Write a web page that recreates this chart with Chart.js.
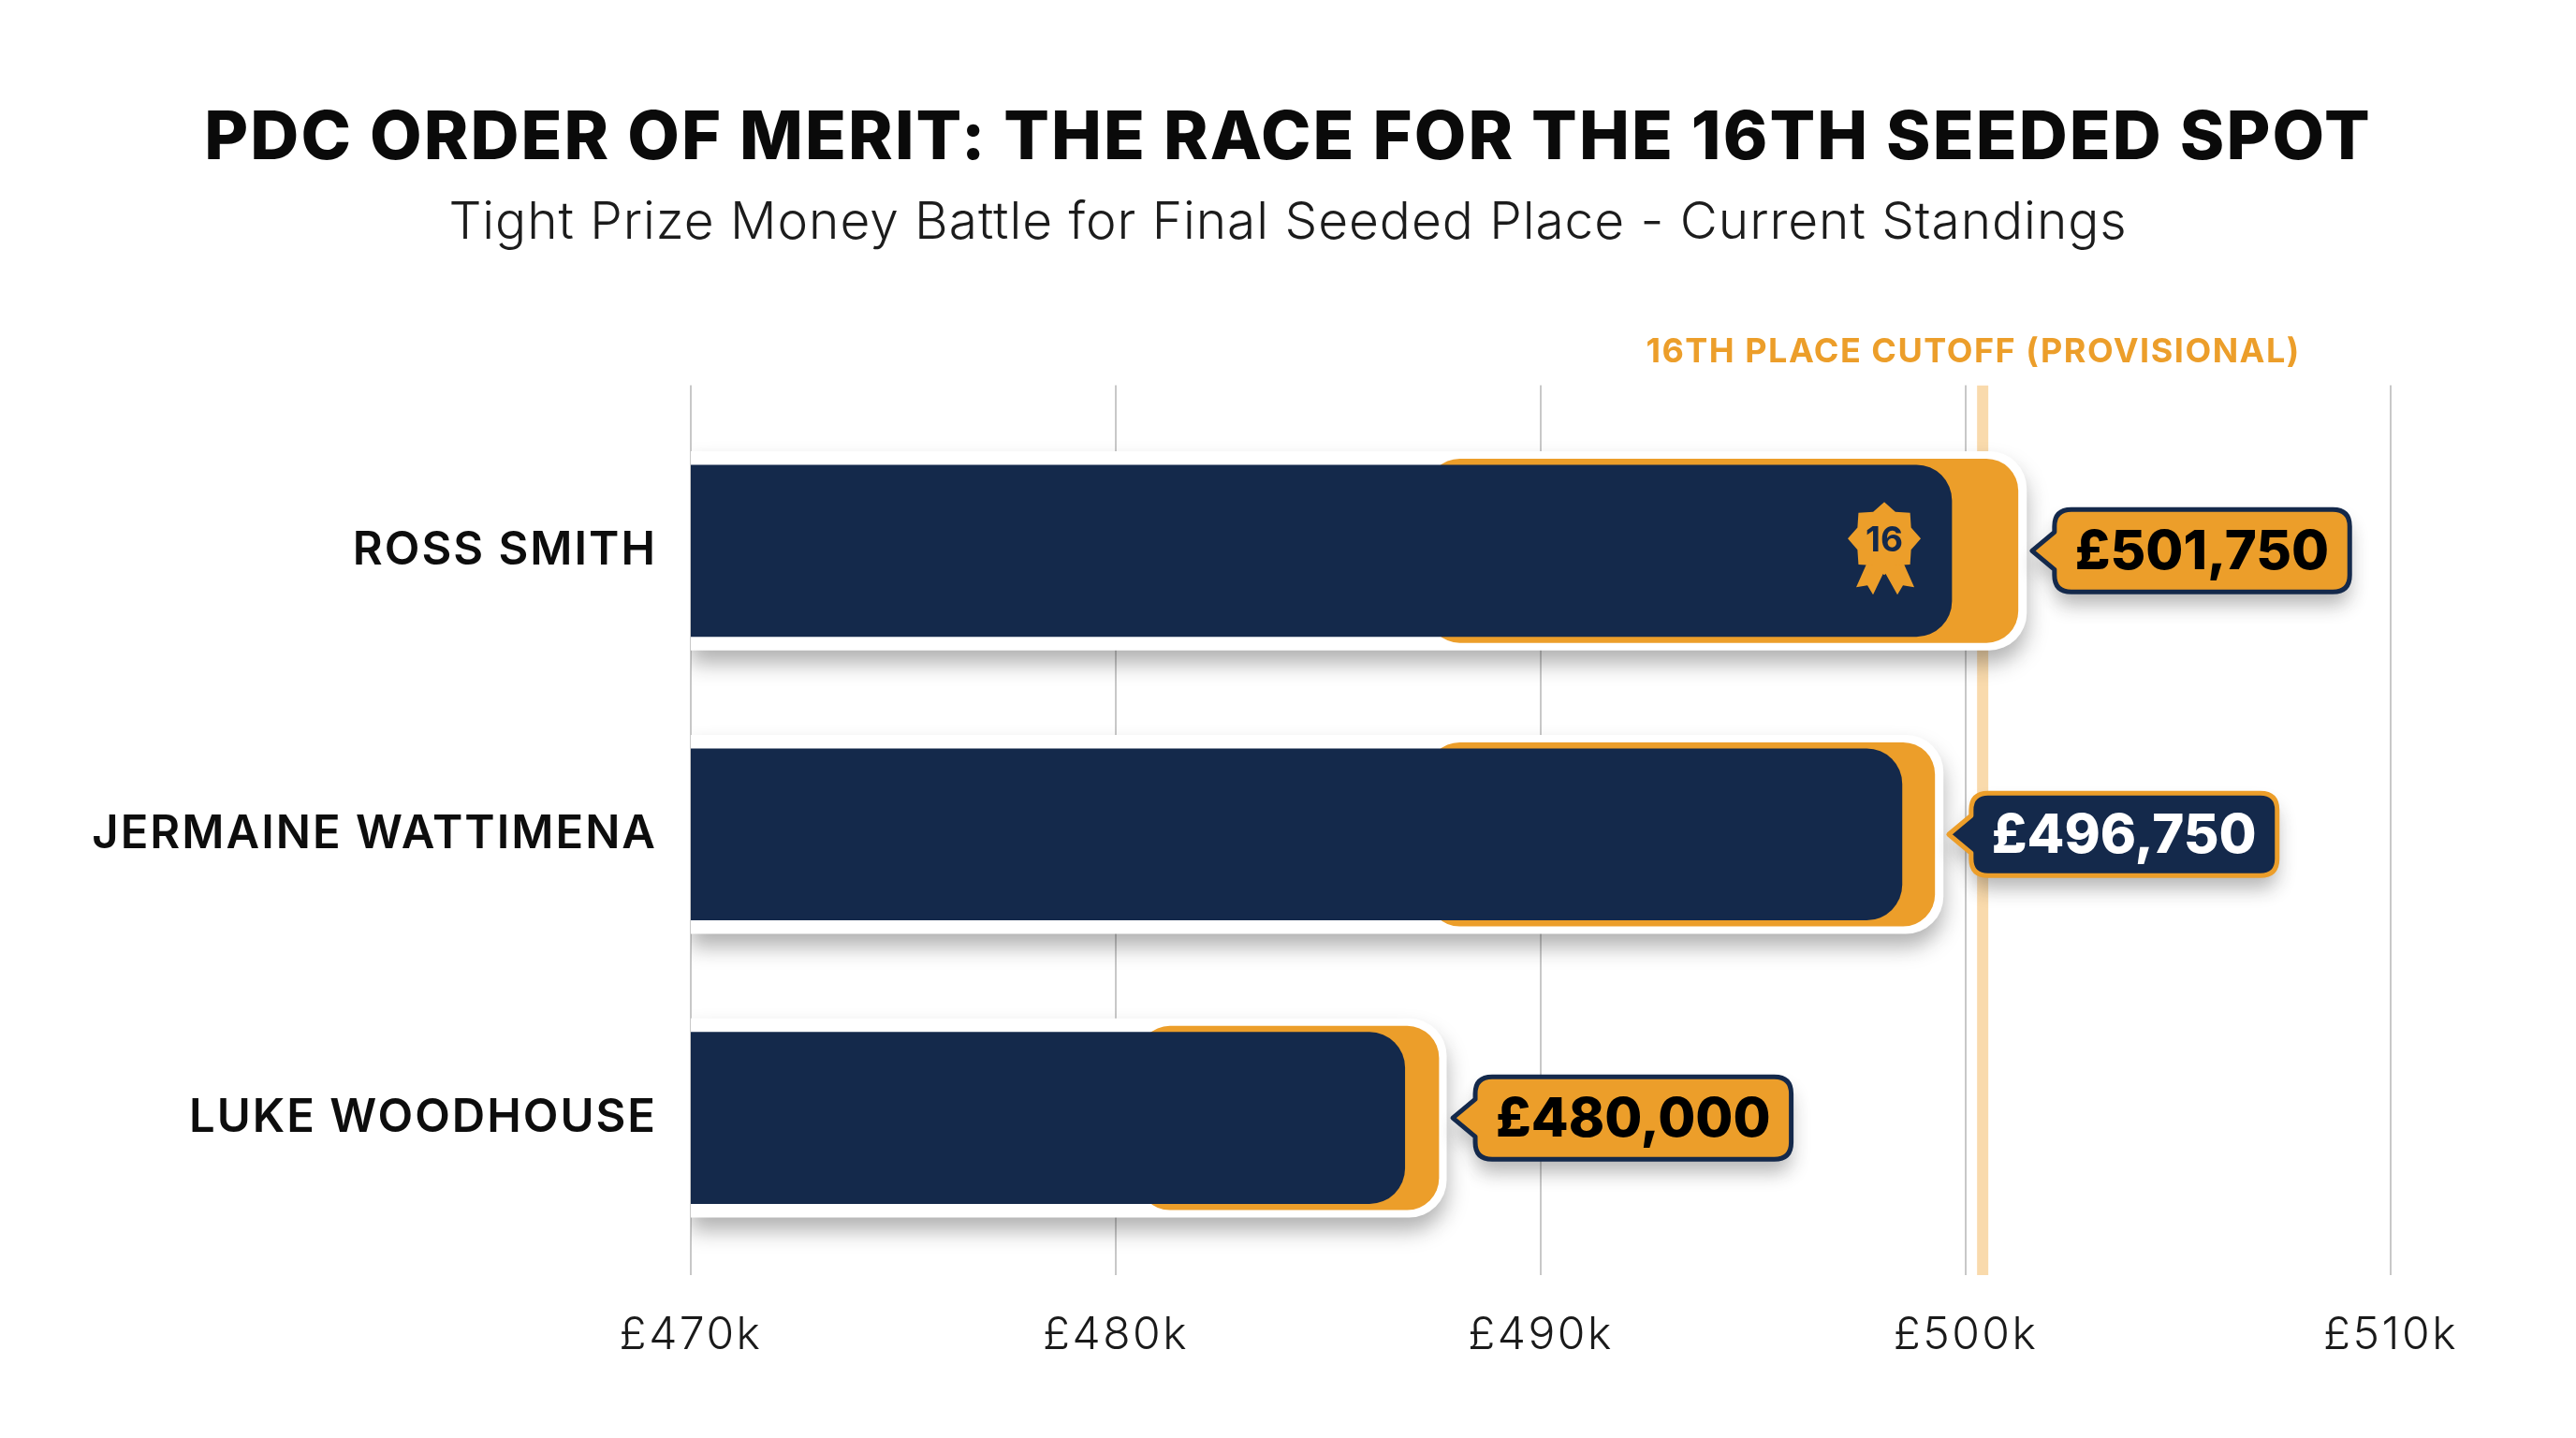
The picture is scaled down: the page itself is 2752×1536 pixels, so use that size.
<!DOCTYPE html>
<html>
<head>
<meta charset="utf-8">
<title>PDC Order of Merit</title>
<script src="https://cdn.jsdelivr.net/npm/chart.js@4/dist/chart.umd.min.js"></script>
<style>
    html, body { margin: 0; padding: 0; background: #ffffff; }
    canvas { display: block; }
</style>
</head>
<body>
<canvas id="grafico" width="2752" height="1536"></canvas>
<script>
const players = ["ROSS SMITH", "JERMAINE WATTIMENA", "LUKE WOODHOUSE"];
const prizeLabels = ["£501,750", "£496,750", "£480,000"];

// the bars in the picture do not line up with the printed prize money
const navyEnd = [499670, 498500, 486800];
const orangeStart = [487350, 487350, 480530];
const orangeEnd = [501230, 499270, 487600];
const haloEnd = [501430, 499470, 487780];

const axisMin = 470000;
const axisMax = 510000;
const axisStep = 10000;
const cutoffValue = 500400;
const cutoffLabel = "16TH PLACE CUTOFF (PROVISIONAL)";
const badgeText = "16";

const NAVY = "#14294B";
const ORANGE = "#EC9E2A";
const FONT = "Inter, 'Noto Sans', sans-serif";

const yMin = -0.584;
const yMax = 2.554;

function calloutPath(ctx, tipX, cy, left, right, h, r) {
    const top = cy - h / 2;
    const bottom = cy + h / 2;
    ctx.beginPath();
    ctx.moveTo(tipX, cy);
    ctx.lineTo(left, cy - 20);
    ctx.lineTo(left, top + r);
    ctx.quadraticCurveTo(left, top, left + r, top);
    ctx.lineTo(right - r, top);
    ctx.quadraticCurveTo(right, top, right, top + r);
    ctx.lineTo(right, bottom - r);
    ctx.quadraticCurveTo(right, bottom, right - r, bottom);
    ctx.lineTo(left + r, bottom);
    ctx.quadraticCurveTo(left, bottom, left, bottom - r);
    ctx.lineTo(left, cy + 20);
    ctx.closePath();
}

function drawBadge(ctx, cx, cy) {
    ctx.save();
    ctx.fillStyle = ORANGE;
    // ribbon tails
    const tails = [[-18, 25], [-30, 52], [-18, 50], [-12, 60], [0, 35], [14, 60], [20, 50], [32, 52], [20, 25]];
    ctx.beginPath();
    tails.forEach((p, i) => i ? ctx.lineTo(cx + p[0], cy + p[1]) : ctx.moveTo(cx + p[0], cy + p[1]));
    ctx.closePath();
    ctx.fill();
    // star
    const points = 8;
    ctx.beginPath();
    for (let i = 0; i < points * 2; i++) {
        const rad = i % 2 ? 31 : 39;
        const ang = -Math.PI / 2 + i * Math.PI / points;
        ctx.lineTo(cx + Math.cos(ang) * rad, cy + Math.sin(ang) * rad);
    }
    ctx.closePath();
    ctx.fill();
    ctx.fillStyle = NAVY;
    ctx.font = "700 37px " + FONT;
    ctx.textAlign = "center";
    ctx.textBaseline = "middle";
    ctx.fillText(badgeText, cx, cy + 3);
    ctx.restore();
}

// the white plate under each bar throws a soft shadow
const haloShadow = {
    id: "haloShadow",
    beforeDatasetDraw(chart, args) {
        if (chart.data.datasets[args.index].label !== "halo") return;
        const ctx = chart.ctx;
        ctx.save();
        ctx.shadowColor = "rgba(30,30,30,0.34)";
        ctx.shadowBlur = 22;
        ctx.shadowOffsetY = 14;
    },
    afterDatasetDraw(chart, args) {
        if (chart.data.datasets[args.index].label !== "halo") return;
        chart.ctx.restore();
    }
};

// chart.js has no letter spacing option, so wrap the draw calls of each text box
function spaced(box, method, px) {
    if (box["_spaced" + method]) return;
    box["_spaced" + method] = true;
    const orig = box[method];
    box[method] = function (...args) {
        this.ctx.letterSpacing = px;
        orig.apply(this, args);
        this.ctx.letterSpacing = "0px";
    };
}

const letterSpacing = {
    id: "letterSpacing",
    afterLayout(chart) {
        chart.boxes.forEach(b => {
            if (b === chart.titleBlock) spaced(b, "draw", "2.1px");
            else if (b.options && b.options.text && b.options.text.startsWith("Tight")) spaced(b, "draw", "0.95px");
        });
        spaced(chart.scales.x, "drawLabels", "2.5px");
        spaced(chart.scales.y, "drawLabels", "2px");
    }
};

const annotations = {
    id: "annotations",
    afterDatasetsDraw(chart) {
        const ctx = chart.ctx;
        const x = chart.scales.x;
        const y = chart.scales.y;

        ctx.save();
        ctx.fillStyle = ORANGE;
        ctx.font = "700 36px " + FONT;
        ctx.letterSpacing = "1.5px";
        ctx.textAlign = "center";
        ctx.textBaseline = "middle";
        ctx.fillText(cutoffLabel, x.getPixelForValue(cutoffValue) - 10, 376);
        ctx.restore();

        drawBadge(ctx, x.getPixelForValue(navyEnd[0]) - 72, y.getPixelForValue(0) - 13);

        prizeLabels.forEach((txt, i) => {
            const dark = i === 1;
            const cy = y.getPixelForValue(i);
            const tipX = x.getPixelForValue(orangeEnd[i]) + 15;
            const left = tipX + 24;
            ctx.save();
            ctx.font = "800 58px " + FONT;
            const w = ctx.measureText(txt).width;
            const right = left + w + 44;
            calloutPath(ctx, tipX, cy, left, right, 88, 18);
            ctx.shadowColor = "rgba(30,30,30,0.32)";
            ctx.shadowBlur = 20;
            ctx.shadowOffsetY = 14;
            ctx.fillStyle = dark ? NAVY : ORANGE;
            ctx.fill();
            ctx.shadowColor = "transparent";
            ctx.lineWidth = 5;
            ctx.lineJoin = "round";
            ctx.strokeStyle = dark ? ORANGE : NAVY;
            ctx.stroke();
            ctx.fillStyle = dark ? "#ffffff" : "#000000";
            ctx.textAlign = "center";
            ctx.textBaseline = "middle";
            ctx.fillText(txt, (left + right) / 2, cy + 2);
            ctx.restore();
        });
    }
};

function mostrarGrafico(id) {
    const ctx = document.getElementById(id);
    const rows = players.map((p, i) => i);

    const data = {
        datasets: [
            {
                label: "navy",
                data: rows.map(i => ({ x: [axisMin, navyEnd[i]], y: i })),
                backgroundColor: NAVY,
                barThickness: 183,
                grouped: false,
                borderSkipped: false,
                borderRadius: { topRight: 38, bottomRight: 38 },
                order: 1
            },
            {
                label: "orange",
                data: rows.map(i => ({ x: [orangeStart[i], orangeEnd[i]], y: i })),
                backgroundColor: ORANGE,
                barThickness: 196,
                grouped: false,
                borderSkipped: false,
                borderRadius: 34,
                order: 2
            },
            {
                label: "halo",
                data: rows.map(i => ({ x: [axisMin, haloEnd[i]], y: i })),
                backgroundColor: "#ffffff",
                barThickness: 212,
                grouped: false,
                borderSkipped: false,
                borderRadius: { topRight: 40, bottomRight: 40 },
                order: 3
            },
            {
                label: "cutoff",
                type: "line",
                indexAxis: "y",
                data: [{ x: cutoffValue, y: yMin }, { x: cutoffValue, y: yMax }],
                borderColor: "#F9DAAC",
                borderWidth: 12,
                pointRadius: 0,
                order: 4
            }
        ]
    };

    const config = {
        type: "bar",
        data: data,
        plugins: [letterSpacing, haloShadow, annotations],
        options: {
            indexAxis: "y",
            responsive: false,
            animation: false,
            plugins: {
                legend: { display: false },
                tooltip: { enabled: false },
                title: {
                    display: true,
                    text: "PDC ORDER OF MERIT: THE RACE FOR THE 16TH SEEDED SPOT",
                    color: "#0A0A0A",
                    font: { family: FONT, size: 72, weight: "800", lineHeight: 1.2 },
                    padding: { top: 105, bottom: 0 }
                },
                subtitle: {
                    display: true,
                    text: "Tight Prize Money Battle for Final Seeded Place - Current Standings",
                    color: "#1c1c1c",
                    font: { family: FONT, size: 55, weight: "300", lineHeight: 1.2 },
                    padding: { top: 14, bottom: 140 }
                }
            },
            scales: {
                x: {
                    type: "linear",
                    position: "bottom",
                    min: axisMin,
                    max: axisMax,
                    border: { display: false },
                    grid: { color: "#C8C8C8", lineWidth: 2, drawTicks: false },
                    afterFit: s => { s.height = 174; },
                    ticks: {
                        stepSize: axisStep,
                        color: "#1a1a1a",
                        padding: 36,
                        font: { family: FONT, size: 48, weight: "300" },
                        callback: v => "£" + v / 1000 + "k"
                    }
                },
                y: {
                    type: "linear",
                    offset: false,
                    reverse: true,
                    min: yMin,
                    max: yMax,
                    border: { display: false },
                    grid: { display: false, drawTicks: false },
                    afterFit: s => { s.width = 738; },
                    afterBuildTicks: s => { s.ticks = players.map((p, i) => ({ value: i })); },
                    ticks: {
                        autoSkip: false,
                        color: "#0d0d0d",
                        padding: 36,
                        font: { family: FONT, size: 49, weight: "600" },
                        callback: v => players[v]
                    }
                },
                // empty axis on the right, keeps the plot clear of the edge while the title stays centred on the page
                pad: {
                    type: "linear",
                    axis: "y",
                    position: "right",
                    display: true,
                    border: { display: false },
                    grid: { display: false, drawTicks: false },
                    ticks: { display: false },
                    afterFit: s => { s.width = 198; }
                }
            }
        }
    };

    return new Chart(ctx, config);
}

mostrarGrafico("grafico");
</script>
</body>
</html>
